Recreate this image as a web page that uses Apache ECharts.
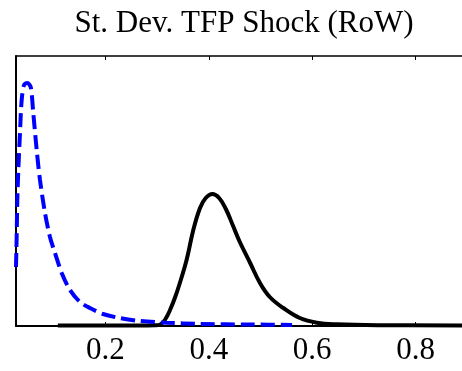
<!DOCTYPE html>
<html>
<head>
<meta charset="utf-8">
<script src="https://cdn.jsdelivr.net/npm/echarts@6/dist/echarts.min.js"></script>
<style>
html,body{margin:0;padding:0;background:#fff;}
#chart{width:462px;height:371px;}
</style>
</head>
<body>
<div id="chart"></div>
<script>
var titleText = 'St. Dev. TFP Shock (RoW)';
var xTicks = [0.2, 0.4, 0.6, 0.8];

// Posterior (solid black): [x, density]
var posteriorX = [0.108, 0.19, 0.267, 0.296, 0.306, 0.315, 0.325, 0.335, 0.344, 0.357, 0.370, 0.383, 0.394, 0.407, 0.420, 0.433, 0.447, 0.460, 0.480, 0.499, 0.518, 0.544, 0.576, 0.609, 0.647, 0.731, 0.89];
var posteriorY = [0.5, 0.5, 0.5, 0.7, 1.5, 6, 16, 29, 43, 66, 96, 118, 128, 132, 128, 117, 100, 84, 63, 43, 29, 18, 8, 3.3, 1.7, 0.8, 0.5];

// Prior (dashed blue): [x, density]
var priorX = [0.0271, 0.0284, 0.0296, 0.0315, 0.0348, 0.0381, 0.0426, 0.0489, 0.0555, 0.0605, 0.0671, 0.0735, 0.0832, 0.0928, 0.1025, 0.1155, 0.1315, 0.1509, 0.1702, 0.1954, 0.2282, 0.2669, 0.319, 0.383, 0.480, 0.561];
var priorY = [59, 90, 125, 155, 193, 226, 241, 243, 239, 213, 176, 146, 113, 89, 73, 53, 36, 24, 18, 12, 8, 5, 3.3, 2, 1.5, 1];

function zip(a, b) { return a.map(function (v, i) { return [v, b[i]]; }); }

var xMin = 0.0271, xMax = 0.8897;
var serif = '"Liberation Serif", "Times New Roman", serif';

var chart = echarts.init(document.getElementById('chart'));
chart.setOption({
  animation: false,
  backgroundColor: '#fff',
  title: {
    text: titleText,
    left: 239, textAlign: 'center',
    top: 3,
    textStyle: { fontFamily: serif, fontSize: 31, fontWeight: 'normal', color: '#000' }
  },
  grid: { left: 16, right: 0, top: 56, bottom: 45, containLabel: false },
  xAxis: [{
    type: 'value', min: xMin, max: xMax, position: 'bottom',
    customValues: xTicks,
    axisLine: { show: true, onZero: false, lineStyle: { color: '#000', width: 2 } },
    axisTick: { show: true, inside: true, length: 4, customValues: xTicks, lineStyle: { color: '#000', width: 1 } },
    axisLabel: { show: true, customValues: xTicks, margin: 9, fontFamily: serif, fontSize: 31, color: '#000',
      formatter: function (v) { return v.toFixed(1); } },
    splitLine: { show: false }
  }, {
    type: 'value', min: xMin, max: xMax, position: 'top',
    axisLine: { show: true, onZero: false, lineStyle: { color: '#000', width: 1.5 } },
    axisTick: { show: true, inside: true, length: 4, customValues: xTicks, lineStyle: { color: '#000', width: 1 } },
    axisLabel: { show: false },
    splitLine: { show: false }
  }],
  yAxis: {
    type: 'value', min: 0, max: 270,
    axisLine: { show: true, onZero: false, lineStyle: { color: '#000', width: 2 } },
    axisTick: { show: false }, axisLabel: { show: false }, splitLine: { show: false }
  },
  series: [{
    type: 'line', data: zip(posteriorX, posteriorY), smooth: 0.4, showSymbol: false,
    lineStyle: { color: '#000', width: 4 }, clip: true, z: 3
  }, {
    type: 'line', data: zip(priorX, priorY), smooth: 0.3, showSymbol: false,
    lineStyle: { color: '#0000ff', width: 4, type: [14, 6] }, clip: true, z: 4
  }]
});
</script>
</body>
</html>
